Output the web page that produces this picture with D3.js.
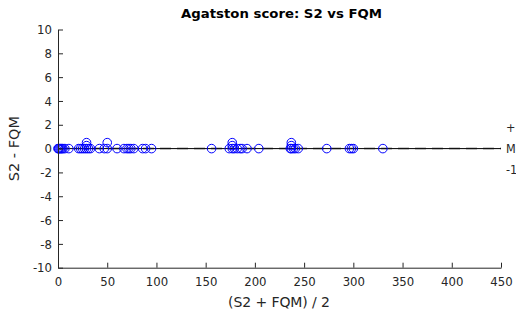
<!DOCTYPE html>
<html>
<head>
<meta charset="utf-8">
<script src="https://cdn.jsdelivr.net/npm/d3@7"></script>
<style>
  body { margin: 0; background: #fff; }
  svg { display: block; font-family: 'DejaVu Sans Condensed', 'DejaVu Sans', Verdana, sans-serif; }
</style>
</head>
<body>
<div id="chart"></div>
<script>
'use strict';

// Bland-Altman data: mean of the two readings and their difference
const meanVals = [0, 0.5, 1, 2, 3, 4, 5, 7, 11, 21, 23, 25, 27, 29, 29, 29, 31, 33,
  42, 47, 50, 50, 60, 67, 70, 72, 74, 77, 86, 89, 95,
  156, 174, 177, 177, 177, 179, 182, 185, 187, 192, 204,
  236, 237, 237, 237, 239, 241, 244, 273, 296, 298, 300, 330];
const diffVals = [0, 0, 0, 0, 0, 0, 0, 0, 0, 0, 0, 0, 0, 0, 0.5, 0.25, 0, 0,
  0, 0, 0, 0.5, 0, 0, 0, 0, 0, 0, 0, 0, 0,
  0, 0, 0, 0.5, 0.25, 0, 0, 0, 0, 0, 0,
  0, 0, 0.5, 0.25, 0, 0, 0, 0, 0, 0, 0, 0];

const xTicks = [0, 50, 100, 150, 200, 250, 300, 350, 400, 450];
const yTicks = [-10, -8, -6, -4, -2, 0, 2, 4, 6, 8, 10];
const refLabels = ['+1.96SD', 'Mean', '-1.96SD'];
const refLabelVals = [1.8, 0, -1.8];
const meanDiff = 0;

const width = 516, height = 315;
const margin = { top: 29.5, right: 15, bottom: 47.3, left: 58 };

const svg = d3.select('#chart').append('svg')
  .attr('width', width).attr('height', height);

const x = d3.scaleLinear().domain([0, 450]).range([margin.left, width - margin.right]);
const y = d3.scaleLinear().domain([-10, 10]).range([height - margin.bottom, margin.top]);

// reference lines
svg.append('line')
  .attr('x1', x(0)).attr('x2', x(450)).attr('y1', y(0)).attr('y2', y(0))
  .attr('stroke', '#bdbdbd').attr('stroke-width', 2.5).attr('stroke-dasharray', '11,6');
svg.append('line')
  .attr('x1', x(0)).attr('x2', x(450)).attr('y1', y(meanDiff)).attr('y2', y(meanDiff))
  .attr('stroke', '#000').attr('stroke-width', 1);

// points
svg.append('g').selectAll('circle').data(meanVals).enter().append('circle')
  .attr('cx', d => x(d)).attr('cy', (d, i) => y(diffVals[i]))
  .attr('r', 4.3).attr('fill', 'none').attr('stroke', '#0000ff').attr('stroke-width', 1);

// axes (plain hyphen minus like the original)
const fmt = d => String(d);
const xAxis = d3.axisBottom(x).tickValues(xTicks).tickFormat(fmt).tickSizeInner(-5).tickSizeOuter(0).tickPadding(9);
const yAxis = d3.axisLeft(y).tickValues(yTicks).tickFormat(fmt).tickSizeInner(-5).tickSizeOuter(0).tickPadding(9);

const gx = svg.append('g').attr('transform', `translate(0,${y(-10)})`).call(xAxis);
const gy = svg.append('g').attr('transform', `translate(${x(0)},0)`).call(yAxis);

[gx, gy].forEach(g => {
  g.attr('font-family', null);
  g.select('.domain').attr('stroke', '#262626');
  g.selectAll('.tick line').attr('stroke', '#262626');
  g.selectAll('.tick text').attr('fill', '#262626').style('font-size', '13px');
});
gy.selectAll('.tick text').attr('dx', '3px');

// right side labels (clipped by figure edge)
svg.append('g').selectAll('text').data(refLabels).enter().append('text')
  .attr('x', x(450) + 5).attr('y', (d, i) => y(refLabelVals[i]))
  .attr('dy', '0.35em').style('font-size', '12.5px').attr('fill', '#262626')
  .text(d => d);

// titles
svg.append('text')
  .attr('x', 281.5).attr('y', 18).attr('text-anchor', 'middle')
  .style('font-family', "'DejaVu Sans', sans-serif")
  .style('font-size', '13px').style('font-weight', 'bold').attr('fill', '#000')
  .attr('textLength', 201).attr('lengthAdjust', 'spacingAndGlyphs')
  .text('Agatston score: S2 vs FQM');

svg.append('text')
  .attr('x', 279).attr('y', 307).attr('text-anchor', 'middle')
  .style('font-family', "'DejaVu Sans', sans-serif")
  .style('font-size', '14px').attr('fill', '#262626')
  .attr('textLength', 102).attr('lengthAdjust', 'spacing')
  .text('(S2 + FQM) / 2');

svg.append('text')
  .attr('transform', `translate(19,${y(0)}) rotate(-90)`).attr('text-anchor', 'middle')
  .style('font-family', "'DejaVu Sans', sans-serif")
  .style('font-size', '14.5px').attr('fill', '#262626')
  .text('S2 - FQM');
</script>
</body>
</html>
